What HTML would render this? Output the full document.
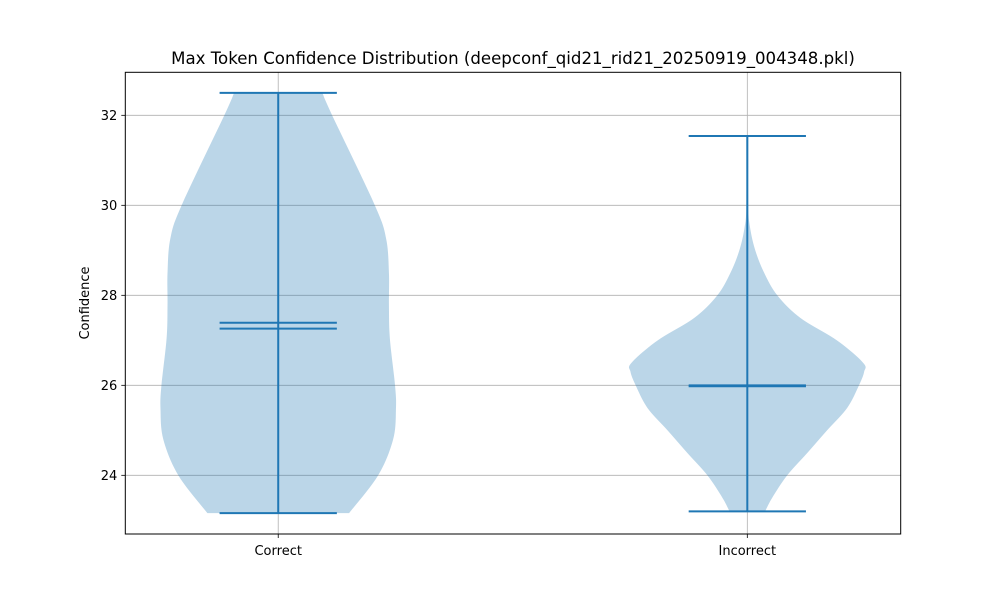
<!DOCTYPE html>
<html><head><meta charset="utf-8"><style>
body{margin:0;background:#fff;}
svg{display:block;font-family:"DejaVu Sans","Liberation Sans",sans-serif;}
</style></head><body>
<svg id="chart" width="1000" height="600" viewBox="0 0 1000 600"></svg>
<script>
const categories = ["Correct", "Incorrect"];
const positions = [1, 2];
const yTicks = [24, 26, 28, 30, 32];
const correctKdeY = [32.5, 32, 30, 29.26, 28.5, 27.78, 27.04, 26, 25.48, 24.8, 24, 23.16];
const correctKdeW = [0.094, 0.115, 0.206, 0.230, 0.236, 0.236, 0.238, 0.249, 0.251, 0.245, 0.213, 0.151];
const incorrectKdeY = [31.54, 30, 29.5, 29, 28.5, 28, 27.5, 27, 26.5, 26.3, 26, 25.5, 25, 24.5, 24, 23.5, 23.2];
const incorrectKdeW = [0.002, 0.002, 0.006, 0.017, 0.036, 0.064, 0.113, 0.191, 0.247, 0.249, 0.238, 0.213, 0.170, 0.128, 0.085, 0.053, 0.038];
const mins = [23.16, 23.2];
const maxs = [32.5, 31.54];
const means = [27.39, 25.98];
const medians = [27.26, 26.0];

const L=125.3,R=900.7,T=72.3,B=534;
const xMin=0.674,xMax=2.327,yMin=22.696,yMax=32.956;
const sx=v=>L+(v-xMin)/(xMax-xMin)*(R-L);
const sy=v=>B-(v-yMin)/(yMax-yMin)*(B-T);
const svg=document.getElementById('chart');
const NS='http://www.w3.org/2000/svg';
function mk(tag,attrs,parent){const e=document.createElementNS(NS,tag);for(const k in attrs)e.setAttribute(k,attrs[k]);(parent||svg).appendChild(e);return e;}
const C='#1f77b4';

yTicks.forEach(t=>{
  const g=mk('line',{x1:L,x2:R,y1:sy(t),y2:sy(t),stroke:'#b0b0b0','stroke-width':0.8});
  
  
});
positions.forEach((p,i)=>{
  const g=mk('line',{x1:sx(p),x2:sx(p),y1:T,y2:B,stroke:'#b0b0b0','stroke-width':0.8});
  
  
});

function smooth(ys,ws){
  const out=[];
  const n=ys.length;
  for(let i=0;i<n-1;i++){
    const p0=i>0?i-1:i,p3=i+2<n?i+2:i+1;
    for(let s=0;s<10;s++){
      const t=s/10;
      const cr=(a)=>{const v0=a[p0],v1=a[i],v2=a[i+1],v3=a[p3];
        return 0.5*((2*v1)+(-v0+v2)*t+(2*v0-5*v1+4*v2-v3)*t*t+(-v0+3*v1-3*v2+v3)*t*t*t);};
      out.push([cr(ys),Math.max(0,cr(ws))]);
    }
  }
  out.push([ys[n-1],ws[n-1]]);
  return out;
}
const kdes=[[correctKdeY,correctKdeW],[incorrectKdeY,incorrectKdeW]];
kdes.forEach((k,i)=>{
  const pts=smooth(k[0],k[1]);
  const p=positions[i];
  let d='';
  pts.forEach((q,j)=>{d+=(j?'L':'M')+sx(p+q[1]).toFixed(2)+','+sy(q[0]).toFixed(2);});
  for(let j=pts.length-1;j>=0;j--){const q=pts[j];d+='L'+sx(p-q[1]).toFixed(2)+','+sy(q[0]).toFixed(2);}
  d+='Z';
  const v=mk('path',{d:d,fill:C,'fill-opacity':0.3,stroke:'none'});
  
  
});
positions.forEach((p,i)=>{
  const nm=categories[i].toLowerCase();
  const bar=mk('line',{x1:sx(p),x2:sx(p),y1:sy(mins[i]),y2:sy(maxs[i]),stroke:C,'stroke-width':2});
  
  
  [['min',mins[i]],['max',maxs[i]],['mean',means[i]],['median',medians[i]]].forEach(c=>{
    const l=mk('line',{x1:sx(p-0.125),x2:sx(p+0.125),y1:sy(c[1]),y2:sy(c[1]),stroke:C,'stroke-width':2});
    
    
  });
});
const fr=mk('rect',{x:L,y:T,width:R-L,height:B-T,fill:'none',stroke:'#000','stroke-width':1});


yTicks.forEach(t=>{
  mk('line',{x1:L-4,x2:L,y1:sy(t),y2:sy(t),stroke:'#000','stroke-width':0.8});
  const tx=mk('text',{x:L-8,y:sy(t)+4.5,'text-anchor':'end','font-size':13,fill:'#000'});
  tx.textContent=t;
  
  
});
positions.forEach((p,i)=>{
  mk('line',{x1:sx(p),x2:sx(p),y1:B,y2:B+4,stroke:'#000','stroke-width':0.8});
  const tx=mk('text',{x:sx(p),y:B+21,'text-anchor':'middle','font-size':13,fill:'#000'});
  tx.textContent=categories[i];
  
  
});
const yl=mk('text',{x:0,y:0,transform:'translate(89,303) rotate(-90)','text-anchor':'middle','font-size':13,fill:'#000'});
yl.textContent='Confidence';


const ti=mk('text',{x:(L+R)/2,y:64,'text-anchor':'middle','font-size':16.6,fill:'#000'});
ti.textContent='Max Token Confidence Distribution (deepconf_qid21_rid21_20250919_004348.pkl)';


</script>
</body></html>
